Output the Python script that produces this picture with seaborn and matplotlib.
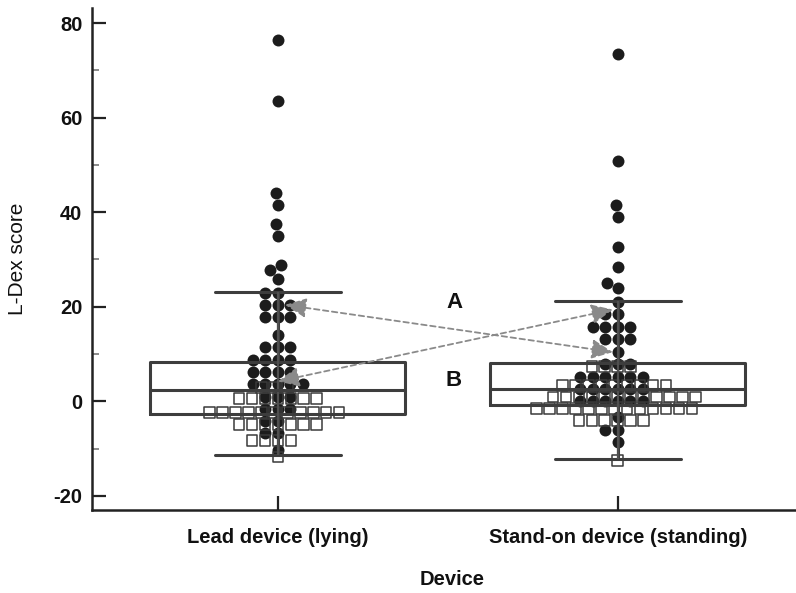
import numpy as np
import pandas as pd
import matplotlib
matplotlib.use("Agg")
import matplotlib.pyplot as plt
import seaborn as sns

# ---------------- data ----------------
devices = ["Lead device (lying)", "Stand-on device (standing)"]

lead_circles = [76.5, 63.5, 44, 41.5, 37.5, 35, 28.8, 27.7, 25.8, 23, 23,
                20.4, 20.4, 20.4, 17.8, 17.8, 17.8, 14, 11.4, 11.4, 11.4,
                8.8, 8.8, 8.8, 8.8, 6.2, 6.2, 6.2, 6.2, 3.6, 3.6, 3.6, 3.6,
                3.6, 1.0, 1.0, 1.0, -1.6, -1.6, -1.6, -4.2, -4.2, -6.8, -6.8,
                -10.4]
lead_squares = [3.0, 3.0, 3.0,
                0.5, 0.5, 0.5, 0.5, 0.5, 0.5, 0.5,
                -2.4, -2.4, -2.4, -2.4, -2.4, -2.4, -2.4, -2.4, -2.4, -2.4, -2.4,
                -4.9, -4.9, -4.9, -4.9, -4.9, -4.9, -4.9,
                -8.3, -8.3, -8.3, -8.3,
                -11.8]
stand_circles = [73.4, 50.8, 41.5, 39, 32.6, 28.4, 25, 23.9, 21,
                 18.4, 18.4, 15.8, 15.8, 15.8, 15.8, 13.2, 13.2, 13.2, 10.4,
                 7.8, 7.8, 7.8, 5.2, 5.2, 5.2, 5.2, 5.2, 5.2,
                 2.6, 2.6, 2.6, 2.6, 2.6, 2.6, 0, 0, 0, 0, 0, 0,
                 -3.4, -6, -6, -8.6]
stand_squares = [7.4, 7.4, 7.4, 7.4,
                 3.4, 3.4, 3.4, 3.4, 3.4, 3.4, 3.4, 3.4, 3.4,
                 0.9, 0.9, 0.9, 0.9, 0.9, 0.9, 0.9, 0.9, 0.9, 0.9, 0.9, 0.9,
                 -1.6, -1.6, -1.6, -1.6, -1.6, -1.6, -1.6, -1.6, -1.6, -1.6,
                 -1.6, -1.6, -1.6,
                 -4.1, -4.1, -4.1, -4.1, -4.1, -4.1,
                 -12.5]

box_q1 = [-2.7, -0.85]
box_median = [2.3, 2.5]
box_q3 = [8.3, 8.0]
whisker_low = [-11.3, -12.3]
whisker_high = [23.2, 21.2]

arrow_labels = ["A", "B"]
arrow_label_y = [21, 4.4]
arrow_start = [(0.021, 20.4), (0.0, 4.2)]
arrow_end = [(0.985, 10.4), (0.985, 19.4)]

# ---------------- style ----------------
sns.set_theme(style="ticks")
plt.rcParams['font.family'] = ['Liberation Sans', 'DejaVu Sans']
plt.rcParams['axes.unicode_minus'] = False

DARK = "#222222"
BOXC = "#3d3d3d"

fig = plt.figure(figsize=(7.96, 5.93), dpi=100)
ax = fig.add_axes([0.1156, 0.14, 0.8844, 0.8465])

circ = pd.DataFrame({
    "Device": [devices[0]] * len(lead_circles) + [devices[1]] * len(stand_circles),
    "score": lead_circles + stand_circles,
})
sq = pd.DataFrame({
    "Device": [devices[0]] * len(lead_squares) + [devices[1]] * len(stand_squares),
    "score": lead_squares + stand_squares,
})

sns.swarmplot(data=circ, x="Device", y="score", order=devices, marker="o",
              size=8.6, color="#1c1c1c", linewidth=0, ax=ax, zorder=3)
n0 = len(ax.collections)
sns.swarmplot(data=sq, x="Device", y="score", order=devices, marker="s",
              size=7.8, color="#ffffff", linewidth=1.1, edgecolor="#3a3a3a",
              ax=ax, zorder=4)
for coll in ax.collections[n0:]:
    coll.set_facecolor("none")
    coll.set_edgecolor("#3a3a3a")
    coll.set_linewidth(1.1)

# box plot from summary statistics
stats = []
for i in range(len(devices)):
    stats.append(dict(med=box_median[i], q1=box_q1[i], q3=box_q3[i],
                      whislo=whisker_low[i], whishi=whisker_high[i], fliers=[]))
line_kw = dict(color=BOXC, linewidth=2.2)
ax.bxp(stats, positions=range(len(devices)), widths=0.75, capwidths=0.37,
       showfliers=False, manage_ticks=False, patch_artist=False,
       boxprops=line_kw, whiskerprops=line_kw, capprops=line_kw,
       medianprops=line_kw, zorder=5)
ax.vlines(range(len(devices)), whisker_low, whisker_high, color="#505050",
          linewidth=1.6, zorder=5)

# arrows A and B
for (x0, y0), (x1, y1) in zip(arrow_start, arrow_end):
    ax.annotate("", xy=(x1, y1), xytext=(x0, y0),
                arrowprops=dict(arrowstyle="<|-|>,head_length=0.65,head_width=0.3",
                                color="#8a8a8a", linestyle=(0, (3, 2)),
                                linewidth=1.3, mutation_scale=20,
                                shrinkA=0, shrinkB=0),
                zorder=6)
for lab, yy in zip(arrow_labels, arrow_label_y):
    ax.text(0.518, yy, lab, ha="center", va="center", fontsize=16,
            fontweight="bold", color="#111111", zorder=7)

# axes
ax.set_xlim(-0.547, 1.524)
ax.set_ylim(-23, 83.2)
ax.set_yticks(range(-20, 81, 20))
ax.set_yticks(range(-10, 80, 20), minor=True)
ax.set_xticks(range(len(devices)))
ax.set_xticklabels(devices)
for s in ["top", "right"]:
    ax.spines[s].set_visible(False)
for s in ["left", "bottom"]:
    ax.spines[s].set_linewidth(1.8)
    ax.spines[s].set_color(DARK)
ax.tick_params(axis="y", which="major", direction="in", length=10, width=1.6,
               color=DARK, labelsize=14.5, pad=7)
ax.tick_params(axis="y", which="minor", direction="in", length=5, width=1.2,
               color="#777777")
ax.tick_params(axis="x", which="major", direction="in", length=10, width=1.6,
               color=DARK, labelsize=14.5, pad=13)
for t in ax.get_xticklabels() + ax.get_yticklabels():
    t.set_fontweight("bold")
    t.set_color("#111111")

ax.set_ylabel("L-Dex score", fontsize=15, color="#111111")
ax.set_xlabel("Device", fontsize=14.5, fontweight="bold", color="#111111")
ax.yaxis.set_label_coords(-0.093, 0.5)
ax.xaxis.set_label_coords(0.511, -0.12)

fig.savefig("out.png", dpi=100)
